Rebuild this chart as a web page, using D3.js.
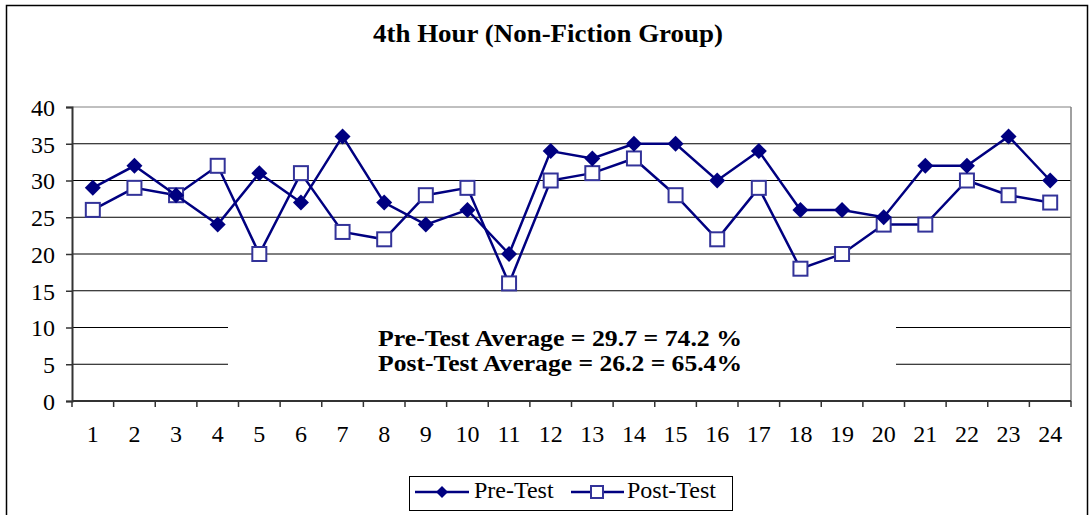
<!DOCTYPE html>
<html>
<head>
<meta charset="utf-8">
<script src="https://cdn.jsdelivr.net/npm/d3@7"></script>
<style>
  body { margin: 0; background: #fff; }
  svg text { font-family: "Liberation Serif", "Times New Roman", serif; fill: #000; }
</style>
</head>
<body>
<div id="chart"></div>
<script>
// data
var categories = d3.range(1, 25).map(String);
var preTest  = [29, 32, 28, 24, 31, 27, 36, 27, 24, 26, 20, 34, 33, 35, 35, 30, 34, 26, 26, 25, 32, 32, 36, 30];
var postTest = [26, 29, 28, 32, 20, 31, 23, 22, 28, 29, 16, 30, 31, 33, 28, 22, 29, 18, 20, 24, 24, 30, 28, 27];
var yTicks = [0, 5, 10, 15, 20, 25, 30, 35, 40];
var title = "4th Hour (Non-Fiction Group)";
var notes = ["Pre-Test Average = 29.7 = 74.2 %", "Post-Test Average = 26.2 = 65.4%"];

var W = 1089, H = 515;
var plot = {left: 72, right: 1071, top: 107, bottom: 401};
var navy = "#000080", sqStroke = "#333399";

var svg = d3.select("#chart").append("svg")
    .attr("width", W).attr("height", H);

// chart border
svg.append("rect")
    .attr("x", 6.5).attr("y", 5.5)
    .attr("width", 1081).attr("height", 515)
    .attr("fill", "#fff").attr("stroke", "#000").attr("stroke-width", 1.5);

svg.append("text")
    .attr("x", 548).attr("y", 42)
    .attr("text-anchor", "middle")
    .attr("textLength", 350).attr("lengthAdjust", "spacingAndGlyphs")
    .style("font-size", "25px").style("font-weight", "bold")
    .text(title);

var x = d3.scaleBand().domain(categories).range([plot.left, plot.right]);
var y = d3.scaleLinear().domain([0, 40]).range([plot.bottom, plot.top]);

// gridlines
svg.append("g").selectAll("line").data(yTicks.filter(function(d){ return d > 0; }))
  .enter().append("line")
    .attr("x1", plot.left).attr("x2", plot.right)
    .attr("y1", function(d){ return y(d); })
    .attr("y2", function(d){ return y(d); })
    .attr("stroke", function(d){ return d == 40 ? "#808080" : "#000"; })
    .attr("stroke-width", 1);

// plot area right border
svg.append("line")
    .attr("x1", plot.right).attr("x2", plot.right)
    .attr("y1", plot.top).attr("y2", plot.bottom)
    .attr("stroke", "#808080").attr("stroke-width", 1.5);

// white box for averages note (covers gridlines)
svg.append("rect")
    .attr("x", 228).attr("y", 316).attr("width", 668).attr("height", 66)
    .attr("fill", "#fff");
svg.append("g").selectAll("text").data(notes).enter().append("text")
    .attr("x", 560)
    .attr("y", function(d, i){ return 346 + i * 25; })
    .attr("text-anchor", "middle")
    .attr("textLength", 364).attr("lengthAdjust", "spacingAndGlyphs")
    .style("font-size", "24px").style("font-weight", "bold")
    .text(function(d){ return d; });

// y axis
var yAxis = d3.axisLeft(y).tickValues(yTicks).tickSize(6).tickPadding(11);
var gy = svg.append("g").attr("transform", "translate(" + plot.left + ",0)").call(yAxis);
gy.select(".domain").attr("stroke", "#333").attr("stroke-width", 2);
gy.selectAll(".tick line").attr("stroke", "#333").attr("stroke-width", 1.5);
gy.selectAll("text").style("font-size", "24px").attr("dy", "0.35em")
    .style("font-family", "Liberation Serif");

// x axis: ticks between categories
var gx = svg.append("g").attr("transform", "translate(0," + plot.bottom + ")");
gx.append("line").attr("x1", plot.left).attr("x2", plot.right)
    .attr("stroke", "#333").attr("stroke-width", 2);
gx.selectAll(".sep").data(d3.range(0, categories.length + 1)).enter().append("line")
    .attr("x1", function(i){ return plot.left + i * x.bandwidth(); })
    .attr("x2", function(i){ return plot.left + i * x.bandwidth(); })
    .attr("y1", 0).attr("y2", 6)
    .attr("stroke", "#333").attr("stroke-width", 1.5);
gx.selectAll(".lbl").data(categories).enter().append("text")
    .attr("x", function(d){ return x(d) + x.bandwidth() / 2; })
    .attr("y", 41)
    .attr("text-anchor", "middle")
    .style("font-size", "24px")
    .text(function(d){ return d; });

var cx = function(d, i){ return x(categories[i]) + x.bandwidth() / 2; };
var line = d3.line().x(cx).y(function(d){ return y(d); });

// post-test series
svg.append("path").datum(postTest)
    .attr("d", line).attr("fill", "none")
    .attr("stroke", navy).attr("stroke-width", 2.5);
svg.append("g").selectAll("rect").data(postTest).enter().append("rect")
    .attr("x", function(d, i){ return cx(d, i) - 7; })
    .attr("y", function(d){ return y(d) - 7; })
    .attr("width", 14).attr("height", 14)
    .attr("fill", "#fff").attr("stroke", sqStroke).attr("stroke-width", 2);

// pre-test series
svg.append("path").datum(preTest)
    .attr("d", line).attr("fill", "none")
    .attr("stroke", navy).attr("stroke-width", 2.5);
svg.append("g").selectAll("path").data(preTest).enter().append("path")
    .attr("d", "M0,-8L8,0L0,8L-8,0Z")
    .attr("transform", function(d, i){ return "translate(" + cx(d, i) + "," + y(d) + ")"; })
    .attr("fill", navy);

// legend
var lg = svg.append("g");
lg.append("rect").attr("x", 409.5).attr("y", 476.5).attr("width", 323).attr("height", 34)
    .attr("fill", "#fff").attr("stroke", "#000").attr("stroke-width", 1);
lg.append("line").attr("x1", 415).attr("x2", 469).attr("y1", 492).attr("y2", 492)
    .attr("stroke", navy).attr("stroke-width", 2.5);
lg.append("path").attr("d", "M0,-6L6,0L0,6L-6,0Z")
    .attr("transform", "translate(442,492)").attr("fill", navy);
lg.append("text").attr("x", 474).attr("y", 498).style("font-size", "24px").text("Pre-Test");
lg.append("line").attr("x1", 571).attr("x2", 624).attr("y1", 492).attr("y2", 492)
    .attr("stroke", navy).attr("stroke-width", 2.5);
lg.append("rect").attr("x", 591).attr("y", 486).attr("width", 12).attr("height", 12)
    .attr("fill", "#fff").attr("stroke", sqStroke).attr("stroke-width", 2);
lg.append("text").attr("x", 627).attr("y", 498).style("font-size", "24px").text("Post-Test");
</script>
</body>
</html>
